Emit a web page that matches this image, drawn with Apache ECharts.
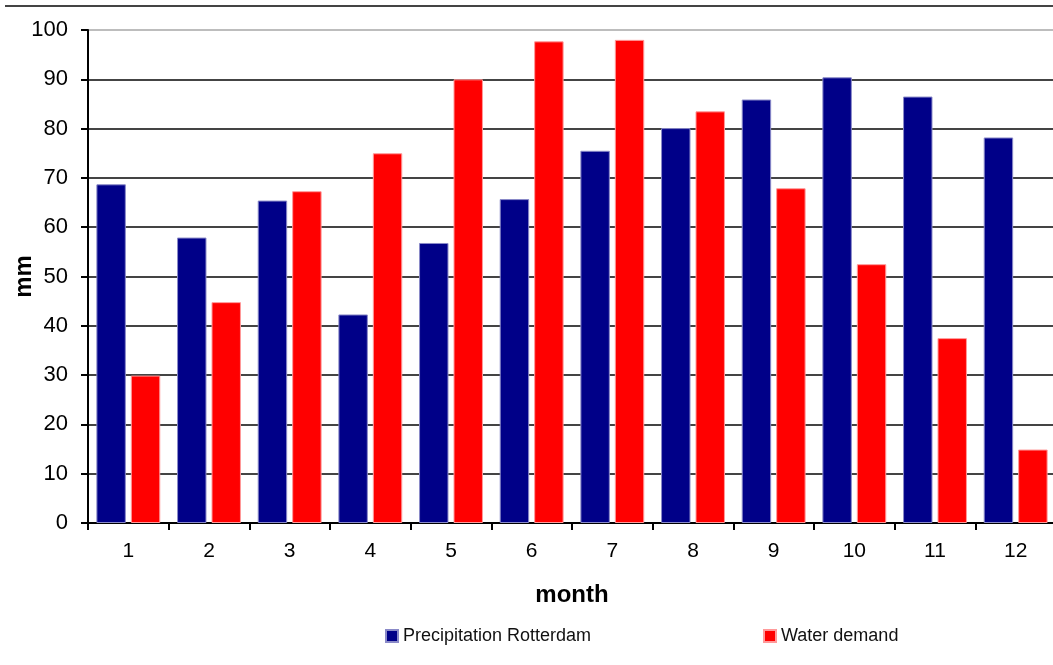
<!DOCTYPE html>
<html lang="en">
<head>
    <meta charset="UTF-8">
    <title>Precipitation vs water demand</title>
    <script src="https://cdn.jsdelivr.net/npm/echarts@6/dist/echarts.min.js"></script>
    <style>
        html, body { margin: 0; padding: 0; background: #fff; }
    </style>
</head>
<body>
    <div id="chart" style="width: 1053px; height: 665px;"></div>

    <script>
        // months and series values (mm)
        var months = ['1', '2', '3', '4', '5', '6', '7', '8', '9', '10', '11', '12'];
        var precipitation = [68.7, 57.9, 65.4, 42.3, 56.8, 65.7, 75.5, 80.1, 85.9, 90.4, 86.5, 78.2];
        var waterDemand = [29.9, 44.8, 67.3, 75.0, 90.0, 97.7, 98.0, 83.5, 67.9, 52.5, 37.5, 14.9];

        var chart = echarts.init(document.getElementById('chart'));

        // gridlines dark, top one light grey
        var gridColors = ['#444', '#444', '#444', '#444', '#444', '#444', '#444', '#444', '#444', '#444', '#bdbdbd'];

        var font = 'Liberation Sans, Arial, sans-serif';

        var option = {
            animation: false,
            backgroundColor: '#fff',
            graphic: [
                {
                    type: 'line',
                    shape: { x1: 5, y1: 6, x2: 1053, y2: 6 },
                    style: { stroke: '#444', lineWidth: 2 }
                }
            ],
            legend: [
                {
                    data: ['Precipitation Rotterdam'],
                    left: 385,
                    top: 627,
                    padding: 0,
                    icon: 'rect',
                    itemWidth: 12,
                    itemHeight: 12,
                    itemGap: 5,
                    textStyle: { fontSize: 18, color: '#111', fontFamily: font }
                },
                {
                    data: ['Water demand'],
                    left: 763,
                    top: 627,
                    padding: 0,
                    icon: 'rect',
                    itemWidth: 12,
                    itemHeight: 12,
                    itemGap: 5,
                    textStyle: { fontSize: 18, color: '#111', fontFamily: font }
                }
            ],
            grid: {
                left: 88,
                top: 30,
                width: 968,
                height: 493,
                outerBoundsMode: 'none'
            },
            xAxis: {
                type: 'category',
                data: months,
                name: 'month',
                nameLocation: 'middle',
                nameGap: 60,
                nameTextStyle: { fontSize: 24, fontWeight: 'bold', color: '#000', fontFamily: font },
                axisLine: { lineStyle: { color: '#000', width: 2 } },
                axisTick: { show: true, length: 7, lineStyle: { color: '#000', width: 2 } },
                axisLabel: { fontSize: 21, color: '#000', margin: 18, fontFamily: font }
            },
            yAxis: {
                type: 'value',
                min: 0,
                max: 100,
                interval: 10,
                name: 'mm',
                nameLocation: 'middle',
                nameGap: 52,
                nameMoveOverlap: false,
                nameTextStyle: { fontSize: 24, fontWeight: 'bold', color: '#000', fontFamily: font },
                axisLine: { show: true, lineStyle: { color: '#000', width: 2 } },
                axisTick: { show: true, length: 7, lineStyle: { color: '#000', width: 2 } },
                axisLabel: { fontSize: 22, color: '#000', margin: 20, fontFamily: font },
                splitLine: { lineStyle: { color: gridColors, width: 2 } }
            },
            series: [
                {
                    name: 'Precipitation Rotterdam',
                    type: 'bar',
                    data: precipitation,
                    barWidth: '36.5%',
                    barGap: '17%',
                    itemStyle: { color: '#000088', borderColor: '#8a8ac8', borderWidth: 1 }
                },
                {
                    name: 'Water demand',
                    type: 'bar',
                    data: waterDemand,
                    barWidth: '36.5%',
                    barGap: '17%',
                    itemStyle: { color: '#ff0000', borderColor: '#ff9a9a', borderWidth: 1 }
                }
            ]
        };
        chart.setOption(option);
    </script>
</body>
</html>
